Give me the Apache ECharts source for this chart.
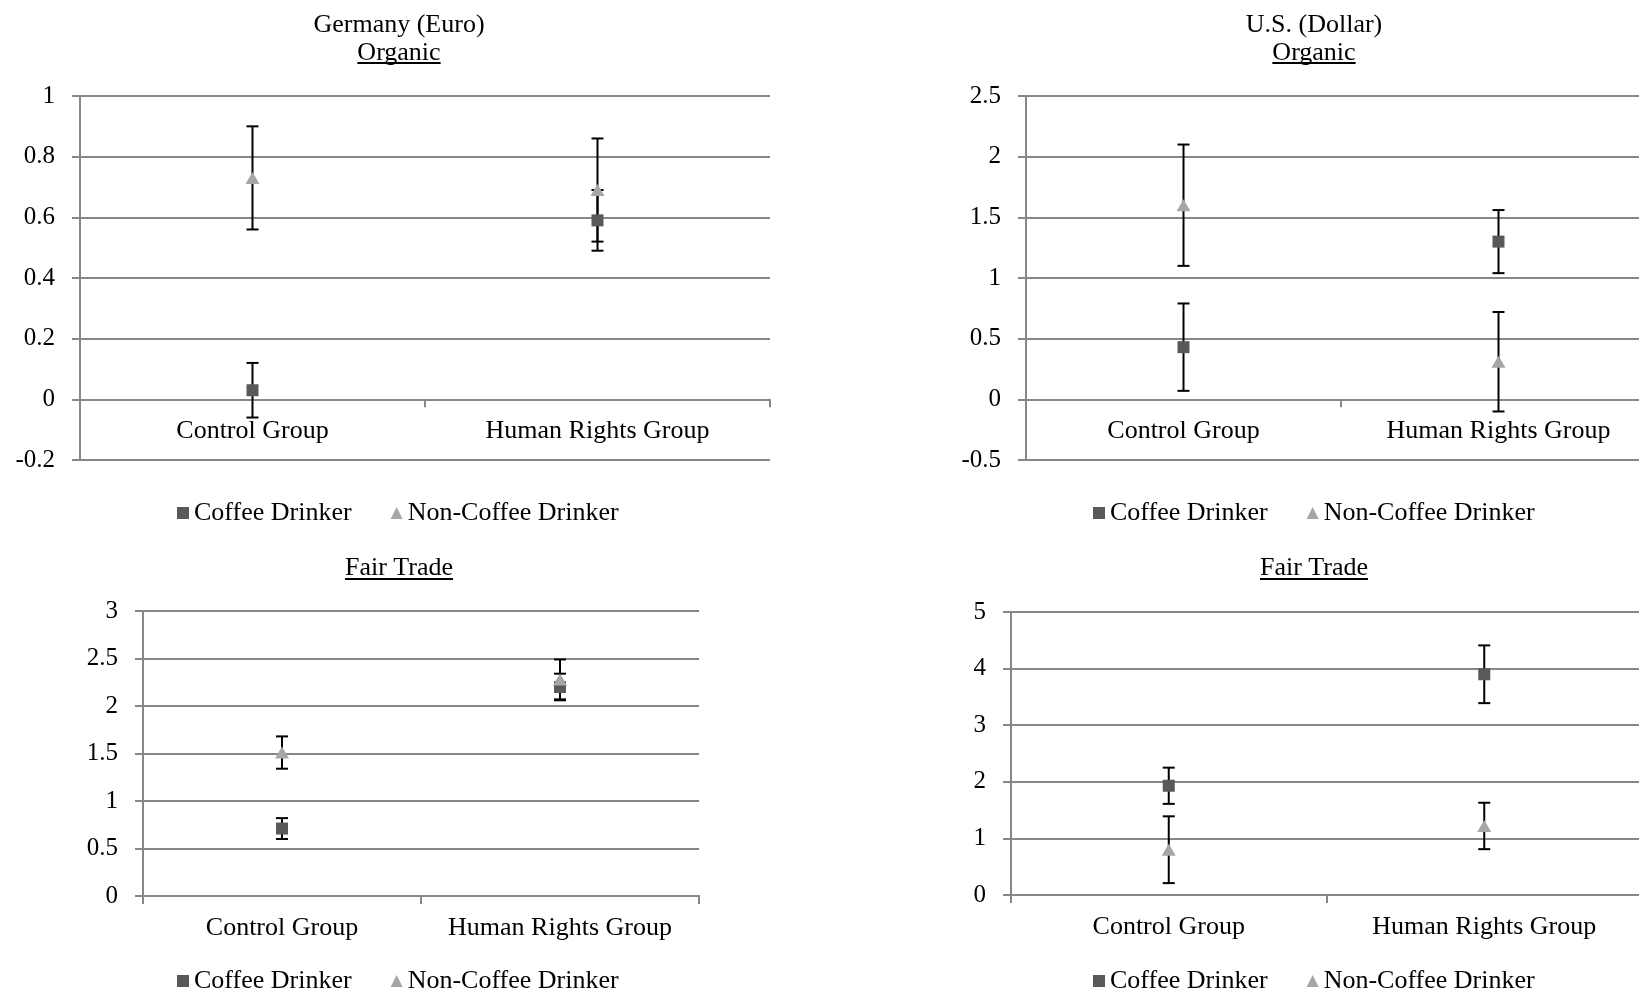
<!DOCTYPE html>
<html>
<head>
<meta charset="utf-8">
<script src="https://cdn.jsdelivr.net/npm/echarts@6/dist/echarts.min.js"></script>
<style>
html, body { margin: 0; padding: 0; background: #fff; }
#main { width: 1639px; height: 995px; }
</style>
</head>
<body>
<div id="main"></div>
<script>
var categories = ['Control Group', 'Human Rights Group'];
var seriesNames = ['Coffee Drinker', 'Non-Coffee Drinker'];

// Germany (Euro) - Organic
var deOrganicCoffee = [0.03, 0.59];
var deOrganicCoffeeErr = [0.09, 0.10];
var deOrganicNon = [0.73, 0.69];
var deOrganicNonErr = [0.17, 0.17];
var deOrganicTicks = [-0.2, 1, 0.2];

// U.S. (Dollar) - Organic
var usOrganicCoffee = [0.43, 1.30];
var usOrganicCoffeeErr = [0.36, 0.26];
var usOrganicNon = [1.60, 0.31];
var usOrganicNonErr = [0.50, 0.41];
var usOrganicTicks = [-0.5, 2.5, 0.5];

// Germany (Euro) - Fair Trade
var deFairCoffee = [0.71, 2.20];
var deFairCoffeeErr = [0.11, 0.14];
var deFairNon = [1.51, 2.28];
var deFairNonErr = [0.17, 0.21];
var deFairTicks = [0, 3, 0.5];

// U.S. (Dollar) - Fair Trade
var usFairCoffee = [1.93, 3.90];
var usFairCoffeeErr = [0.32, 0.51];
var usFairNon = [0.80, 1.22];
var usFairNonErr = [0.59, 0.41];
var usFairTicks = [0, 5, 1];

var FONT = '"Liberation Serif", "Times New Roman", serif';
var GRAY = '#878787';
var COFFEE = '#595959';
var NONCOFFEE = '#a6a6a6';

var panels = [
	{grid: {left: 80, top: 96, width: 690, height: 364}, ticks: deOrganicTicks,
	 coffee: deOrganicCoffee, coffeeErr: deOrganicCoffeeErr, non: deOrganicNon, nonErr: deOrganicNonErr,
	 legend: {left: 177, top: 500}},
	{grid: {left: 1026, top: 96, width: 630, height: 364}, ticks: usOrganicTicks,
	 coffee: usOrganicCoffee, coffeeErr: usOrganicCoffeeErr, non: usOrganicNon, nonErr: usOrganicNonErr,
	 legend: {left: 1093, top: 500}},
	{grid: {left: 143, top: 611, width: 556, height: 285}, ticks: deFairTicks,
	 coffee: deFairCoffee, coffeeErr: deFairCoffeeErr, non: deFairNon, nonErr: deFairNonErr,
	 legend: {left: 177, top: 968}},
	{grid: {left: 1011, top: 612, width: 631, height: 283}, ticks: usFairTicks,
	 coffee: usFairCoffee, coffeeErr: usFairCoffeeErr, non: usFairNon, nonErr: usFairNonErr,
	 legend: {left: 1093, top: 968}}
];

// titles: text, center x, middle y, underline y (or null)
var titles = [
	{text: 'Germany (Euro)', x: 399, y: 25, line: null},
	{text: 'Organic', x: 399, y: 53, line: 62},
	{text: 'U.S. (Dollar)', x: 1314, y: 25, line: null},
	{text: 'Organic', x: 1314, y: 53, line: 62},
	{text: 'Fair Trade', x: 399, y: 568, line: 578},
	{text: 'Fair Trade', x: 1314, y: 568, line: 578}
];

function errorRows(values, errs) {
	return values.map(function (v, i) {
		return [i, v - errs[i], v + errs[i]];
	});
}

function errorBar(params, api) {
	var x = api.value(0);
	var lo = api.coord([x, api.value(1)]);
	var hi = api.coord([x, api.value(2)]);
	var cap = 6;
	var style = {stroke: '#000', lineWidth: 2, fill: null};
	return {
		type: 'group',
		children: [
			{type: 'line', shape: {x1: lo[0], y1: lo[1], x2: hi[0], y2: hi[1]}, style: style},
			{type: 'line', shape: {x1: lo[0] - cap, y1: lo[1], x2: lo[0] + cap, y2: lo[1]}, style: style},
			{type: 'line', shape: {x1: hi[0] - cap, y1: hi[1], x2: hi[0] + cap, y2: hi[1]}, style: style}
		]
	};
}

var measureCtx = document.createElement('canvas').getContext('2d');
measureCtx.font = '26px ' + FONT;

var option = {
	animation: false,
	backgroundColor: '#fff',
	textStyle: {fontFamily: FONT, color: '#000'},
	grid: [], xAxis: [], yAxis: [], legend: [], series: [], graphic: []
};

panels.forEach(function (p, i) {
	// category labels sit under the zero line, not under the grid bottom
	var zeroShift = (0 - p.ticks[0]) / (p.ticks[1] - p.ticks[0]) * p.grid.height;
	option.grid.push({
		left: p.grid.left, top: p.grid.top, width: p.grid.width, height: p.grid.height,
		containLabel: false, outerBoundsMode: 'none'
	});
	option.xAxis.push({
		type: 'category', gridIndex: i, data: categories, boundaryGap: true,
		axisLine: {show: true, onZero: true, lineStyle: {color: GRAY, width: 2}},
		axisTick: {show: true, interval: 0, length: 8, lineStyle: {color: GRAY, width: 2}},
		axisLabel: {interval: 0, margin: 19 - zeroShift, color: '#000', fontSize: 26, fontFamily: FONT},
		splitLine: {show: false}
	});
	option.yAxis.push({
		type: 'value', gridIndex: i, min: p.ticks[0], max: p.ticks[1], interval: p.ticks[2],
		axisLine: {show: true, lineStyle: {color: GRAY, width: 2}},
		axisTick: {show: true, length: 8, lineStyle: {color: GRAY, width: 2}},
		axisLabel: {margin: 25, color: '#000', fontSize: 25, fontFamily: FONT},
		splitLine: {show: true, lineStyle: {color: GRAY, width: 2}}
	});
	option.legend.push({
		left: p.legend.left, top: p.legend.top, padding: 0, orient: 'horizontal',
		itemWidth: 12, itemHeight: 12, itemGap: 39,
		textStyle: {fontSize: 26, color: '#000', fontFamily: FONT},
		data: [{name: seriesNames[0], icon: 'rect'}, {name: seriesNames[1], icon: 'triangle'}]
	});
	option.series.push(
		{type: 'custom', xAxisIndex: i, yAxisIndex: i, renderItem: errorBar,
		 encode: {x: 0, y: [1, 2]}, data: errorRows(p.coffee, p.coffeeErr), z: 2, silent: true},
		{type: 'custom', xAxisIndex: i, yAxisIndex: i, renderItem: errorBar,
		 encode: {x: 0, y: [1, 2]}, data: errorRows(p.non, p.nonErr), z: 2, silent: true},
		{type: 'scatter', name: seriesNames[0], xAxisIndex: i, yAxisIndex: i, data: p.coffee,
		 symbol: 'rect', symbolSize: 12, itemStyle: {color: COFFEE, opacity: 1}, z: 3},
		{type: 'scatter', name: seriesNames[1], xAxisIndex: i, yAxisIndex: i, data: p.non,
		 symbol: 'triangle', symbolSize: [14, 12], itemStyle: {color: NONCOFFEE, opacity: 1}, z: 3}
	);
});

titles.forEach(function (t) {
	option.graphic.push({
		type: 'text', x: t.x, y: t.y,
		style: {text: t.text, font: '26px ' + FONT, fill: '#000',
			align: 'center', verticalAlign: 'middle', textAlign: 'center', textVerticalAlign: 'middle'}
	});
	if (t.line != null) {
		var w = measureCtx.measureText(t.text).width;
		option.graphic.push({
			type: 'rect', x: t.x - w / 2, y: t.line,
			shape: {x: 0, y: 0, width: w, height: 2},
			style: {fill: '#000'}
		});
	}
});

var chart = echarts.init(document.getElementById('main'), null, {renderer: 'canvas'});
chart.setOption(option);
</script>
</body>
</html>
